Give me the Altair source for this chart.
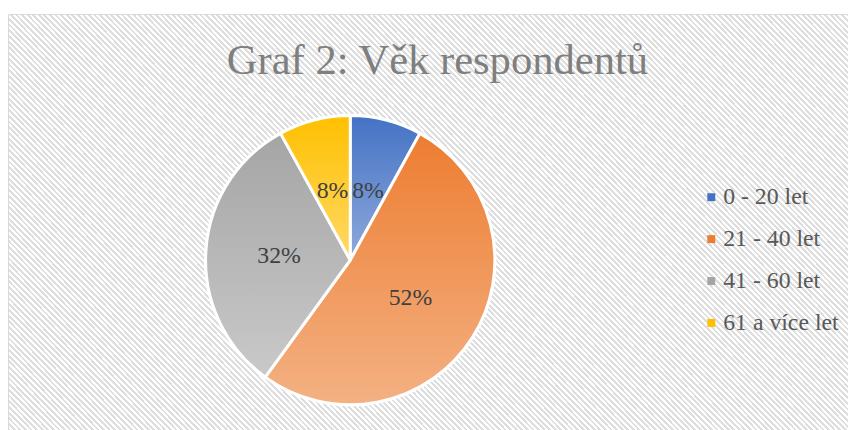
import altair as alt
import pandas as pd

# ---- data ----
categories = ["0 - 20 let", "21 - 40 let", "41 - 60 let", "61 a více let"]
percent = [8, 52, 32, 8]
base_colors = ["#4472C4", "#ED7D31", "#A5A5A5", "#FFC000"]
light_colors = ["#8FAADC", "#F4B183", "#C9C9C9", "#FFD966"]
title_text = "Graf 2: Věk respondentů"

df = pd.DataFrame({"cat": categories, "value": percent, "idx": list(range(len(categories)))})

W, H = 848, 422
CX, CY, R = 345.5, 252.5, 146
SERIF = "Liberation Serif"

# ---- striped background via a hard-stop linear gradient ----
rx1, ry1, rx2, ry2 = 0.5, 4.5, W, H
bw, bh = rx2 - rx1, ry2 - ry1
k = bw * (bw + bh) / (bw * bw + bh * bh)
span = bw + bh
period = 5.5
stops = []
n = int(span / period) + 1
for i in range(n):
    t0 = i * period / span
    if t0 > 1:
        break
    t1 = min(1.0, t0 + 2.75 / span)
    t2 = min(1.0, t0 + period / span)
    stops += [
        {"offset": t0, "color": "#dedede"},
        {"offset": t1, "color": "#dedede"},
        {"offset": t1, "color": "#ffffff"},
        {"offset": t2, "color": "#ffffff"},
    ]
stripe_grad = {"gradient": "linear", "x1": 0, "y1": 1, "x2": k, "y2": 1 - k * bh / bw, "stops": stops}

bg = alt.Chart(pd.DataFrame({"a": [0]})).mark_rect(
    fill=stripe_grad, stroke="#d9d9d9", strokeWidth=1
).encode(
    x=alt.value(rx1), x2=alt.value(rx2 + 20), y=alt.value(ry1), y2=alt.value(ry2 + 20)
)

def vgrad(top, bottom):
    return {"gradient": "linear", "x1": 0, "y1": 0, "x2": 0, "y2": 1,
            "stops": [{"offset": 0, "color": top}, {"offset": 1, "color": bottom}]}

theta = alt.Theta("value:Q", stack=True)
order = alt.Order("idx:Q")

LEG_FS = 24
base = alt.Chart(df).mark_arc(radius=R, stroke="white", strokeWidth=3).encode(
    theta=theta,
    order=order,
    x=alt.value(CX), y=alt.value(CY),
    color=alt.Color(
        "cat:N",
        scale=alt.Scale(domain=categories, range=base_colors),
        legend=alt.Legend(
            title=None, orient="none", legendX=698, legendY=177,
            symbolType="square", symbolSize=64, symbolStrokeWidth=0,
            labelFont=SERIF, labelFontSize=LEG_FS, labelColor="#595959",
            labelOffset=0, rowPadding=42.3 - LEG_FS, padding=0,
        ),
    ),
)

conds = [{"test": f"datum.idx === {i}", "value": vgrad(base_colors[i], light_colors[i])}
         for i in range(len(categories) - 1)]
last = len(categories) - 1
grad_layer = alt.Chart(df).mark_arc(radius=R, stroke="white", strokeWidth=3).encode(
    theta=theta,
    order=order,
    x=alt.value(CX), y=alt.value(CY),
    fill=alt.value(vgrad(base_colors[last], light_colors[last]), condition=conds),
)

labels = alt.Chart(df).transform_calculate(
    label="datum.value + '%'"
).mark_text(radius=72, font=SERIF, fontSize=24, color="#404040").encode(
    theta=theta,
    order=order,
    x=alt.value(CX), y=alt.value(CY),
    text="label:N",
)

title = alt.Chart(pd.DataFrame({"t": [title_text]})).mark_text(
    font=SERIF, fontSize=43, color="#7f7f7f", baseline="alphabetic", align="center"
).encode(x=alt.value(433.5), y=alt.value(65), text="t:N")

chart = alt.layer(bg, base, grad_layer, labels, title).properties(
    width=W, height=H, padding=0, autosize=alt.AutoSizeParams(type="none")
).configure_view(stroke=None)

chart.save("out.html", embed_options={"renderer": "svg", "actions": False})
